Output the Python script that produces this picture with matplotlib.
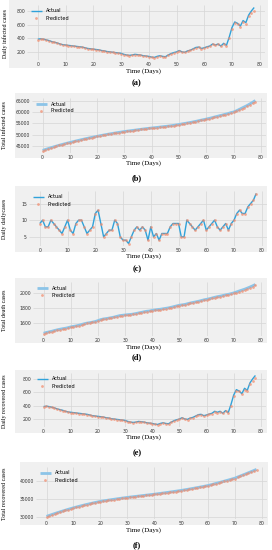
import matplotlib
matplotlib.use("Agg")
import matplotlib.pyplot as plt
from matplotlib.patches import Rectangle
from matplotlib.ticker import MultipleLocator

plt.style.use("fivethirtyeight")

days = list(range(79))

daily_infected = [390, 395, 390, 380, 370, 355, 345, 335, 320, 310,
                  305, 300, 295, 290, 285, 280, 275, 265, 255, 250,
                  245, 240, 235, 225, 220, 210, 205, 200, 195, 190,
                  185, 170, 160, 155, 160, 170, 165, 160, 150, 145,
                  140, 130, 125, 140, 150, 140, 135, 160, 180, 195,
                  205, 225, 205, 200, 220, 230, 250, 270, 275, 255,
                  265, 280, 290, 320, 305, 320, 290, 330, 300, 420,
                  560, 640, 620, 580, 660, 630, 740, 800, 850]
daily_infected_pred = [385, 392, 388, 377, 366, 352, 342, 331, 318, 307,
                       302, 297, 292, 287, 282, 277, 271, 262, 252, 247,
                       242, 237, 231, 222, 216, 207, 202, 197, 192, 187,
                       180, 167, 157, 153, 158, 166, 162, 157, 147, 142,
                       137, 128, 124, 137, 147, 138, 133, 156, 176, 191,
                       201, 220, 203, 198, 216, 226, 246, 265, 270, 253,
                       262, 276, 286, 314, 302, 315, 288, 325, 298, 400,
                       540, 620, 615, 570, 640, 615, 720, 775, 805]

total_infected = [43000, 43395, 43785, 44165, 44535, 44890, 45235, 45570, 45890, 46200,
                  46505, 46805, 47100, 47390, 47675, 47955, 48230, 48495, 48750, 49000,
                  49245, 49485, 49720, 49945, 50165, 50375, 50580, 50780, 50975, 51165,
                  51350, 51520, 51680, 51835, 51995, 52165, 52330, 52490, 52640, 52785,
                  52925, 53055, 53180, 53320, 53470, 53610, 53745, 53905, 54085, 54280,
                  54485, 54710, 54915, 55115, 55335, 55565, 55815, 56085, 56360, 56615,
                  56880, 57160, 57450, 57770, 58075, 58395, 58685, 59015, 59315, 59735,
                  60000, 60500, 61100, 61700, 62300, 62900, 63600, 64300, 65100]
total_infected_pred = [42950, 43340, 43720, 44100, 44470, 44830, 45170, 45510, 45830, 46140,
                       46450, 46750, 47040, 47330, 47620, 47900, 48170, 48440, 48690, 48940,
                       49190, 49430, 49660, 49890, 50110, 50320, 50520, 50720, 50920, 51110,
                       51290, 51460, 51620, 51780, 51940, 52100, 52270, 52430, 52580, 52730,
                       52870, 53000, 53130, 53260, 53410, 53550, 53690, 53850, 54020, 54220,
                       54420, 54640, 54850, 55050, 55260, 55490, 55730, 55990, 56260, 56520,
                       56780, 57050, 57330, 57640, 57950, 58260, 58560, 58880, 59180, 59560,
                       59820, 60250, 60800, 61350, 61950, 62500, 63150, 63800, 64600]

daily_deaths = [9, 10, 8, 8, 10, 9, 8, 7, 6, 8,
                10, 7, 6, 9, 10, 10, 8, 6, 7, 8,
                12, 13, 9, 5, 6, 7, 7, 10, 9, 5,
                4, 4, 3, 5, 7, 8, 7, 8, 7, 4,
                8, 5, 6, 4, 6, 6, 6, 8, 9, 9,
                9, 5, 5, 10, 9, 8, 7, 8, 9, 10,
                7, 8, 9, 10, 8, 7, 8, 9, 7, 9,
                10, 12, 13, 12, 12, 14, 15, 16, 18]
daily_deaths_pred = [9, 10, 8, 8, 10, 9, 8, 7, 6, 8,
                     10, 7, 6, 9, 10, 10, 8, 6, 7, 8,
                     12, 13, 9, 5, 6, 7, 7, 10, 9, 5,
                     4, 4, 3, 5, 7, 8, 7, 8, 7, 4,
                     8, 5, 6, 4, 6, 6, 6, 8, 9, 9,
                     9, 5, 5, 10, 9, 8, 7, 8, 9, 10,
                     7, 8, 9, 10, 8, 7, 8, 9, 7, 9,
                     10, 12, 13, 12, 12, 14, 15, 16, 18]

total_deaths = [1470, 1480, 1488, 1496, 1506, 1515, 1523, 1530, 1536, 1544,
                1554, 1561, 1567, 1576, 1586, 1596, 1604, 1610, 1617, 1625,
                1637, 1650, 1659, 1664, 1670, 1677, 1684, 1694, 1703, 1708,
                1712, 1716, 1719, 1724, 1731, 1739, 1746, 1754, 1761, 1765,
                1773, 1778, 1784, 1788, 1794, 1800, 1806, 1814, 1823, 1832,
                1841, 1846, 1851, 1861, 1870, 1878, 1885, 1893, 1902, 1912,
                1919, 1927, 1936, 1946, 1954, 1961, 1969, 1978, 1985, 1994,
                2004, 2016, 2029, 2041, 2053, 2067, 2082, 2098, 2116]
total_deaths_pred = [1466, 1476, 1484, 1492, 1502, 1511, 1519, 1526, 1532, 1540,
                     1550, 1557, 1563, 1572, 1582, 1592, 1600, 1606, 1613, 1621,
                     1633, 1646, 1655, 1660, 1666, 1673, 1680, 1690, 1699, 1704,
                     1708, 1712, 1715, 1720, 1727, 1735, 1742, 1750, 1757, 1761,
                     1769, 1774, 1780, 1784, 1790, 1796, 1802, 1810, 1819, 1828,
                     1837, 1842, 1847, 1857, 1866, 1874, 1881, 1889, 1898, 1908,
                     1914, 1922, 1931, 1941, 1949, 1956, 1964, 1972, 1979, 1988,
                     1997, 2008, 2020, 2031, 2043, 2056, 2070, 2086, 2104]

daily_recovered = [390, 395, 390, 380, 370, 355, 345, 335, 320, 310,
                   305, 300, 295, 290, 285, 280, 275, 265, 255, 250,
                   245, 240, 235, 225, 220, 210, 205, 200, 195, 190,
                   185, 170, 160, 155, 160, 170, 165, 160, 150, 145,
                   140, 130, 125, 140, 150, 140, 135, 160, 180, 195,
                   205, 225, 205, 200, 220, 230, 250, 270, 275, 255,
                   265, 280, 290, 320, 305, 320, 290, 330, 300, 420,
                   560, 640, 620, 580, 660, 630, 740, 800, 850]
daily_recovered_pred = [385, 392, 388, 377, 366, 352, 342, 331, 318, 307,
                        302, 297, 292, 287, 282, 277, 271, 262, 252, 247,
                        242, 237, 231, 222, 216, 207, 202, 197, 192, 187,
                        180, 167, 157, 153, 158, 166, 162, 157, 147, 142,
                        137, 128, 124, 137, 147, 138, 133, 156, 176, 191,
                        201, 220, 203, 198, 216, 226, 246, 265, 270, 253,
                        262, 276, 286, 314, 302, 315, 288, 325, 298, 400,
                        540, 620, 615, 570, 640, 615, 720, 775, 805]

total_recovered = [30200, 30460, 30720, 30970, 31220, 31460, 31700, 31930, 32160, 32380,
                   32600, 32800, 33000, 33190, 33380, 33560, 33740, 33910, 34080, 34240,
                   34400, 34520, 34640, 34760, 34880, 34990, 35100, 35210, 35320, 35420,
                   35520, 35610, 35700, 35790, 35880, 35970, 36060, 36150, 36240, 36330,
                   36420, 36520, 36620, 36720, 36820, 36930, 37040, 37150, 37260, 37370,
                   37480, 37610, 37740, 37870, 38000, 38140, 38280, 38420, 38560, 38710,
                   38860, 39060, 39260, 39460, 39660, 39870, 40080, 40290, 40500, 40720,
                   40940, 41240, 41540, 41840, 42140, 42450, 42760, 43070, 43400]
total_recovered_pred = [30120, 30380, 30640, 30890, 31140, 31380, 31620, 31850, 32080, 32300,
                        32520, 32720, 32920, 33110, 33300, 33480, 33660, 33830, 34000, 34160,
                        34320, 34440, 34560, 34680, 34800, 34910, 35020, 35130, 35240, 35340,
                        35440, 35530, 35620, 35710, 35800, 35890, 35980, 36070, 36160, 36250,
                        36340, 36440, 36540, 36640, 36740, 36850, 36960, 37070, 37180, 37290,
                        37400, 37530, 37660, 37790, 37920, 38060, 38200, 38340, 38480, 38630,
                        38780, 38980, 39180, 39380, 39580, 39790, 40000, 40200, 40400, 40620,
                        40830, 41120, 41420, 41720, 42020, 42320, 42630, 42940, 43250]

panels = [
    (daily_infected, daily_infected_pred, "Daily infected cases", "(a)", 200, False),
    (total_infected, total_infected_pred, "Total infected cases", "(b)", 5000, True),
    (daily_deaths, daily_deaths_pred, "Daily dailycases", "(c)", 5, False),
    (total_deaths, total_deaths_pred, "Total death cases", "(d)", 200, True),
    (daily_recovered, daily_recovered_pred, "Daily recovered cases", "(e)", 200, False),
    (total_recovered, total_recovered_pred, "Total recovered cases", "(f)", 5000, True),
]

# pixel boxes: axes (x0, x1, top, bottom), grey panel (x0, x1, top, bottom), xlabel y, caption y
ax_box = [(27, 265, 5, 60), (32, 266, 98, 153), (29, 267, 191, 246),
          (33, 266, 282, 336), (33, 266, 373, 427), (36, 267, 467, 519)]
grey_box = [(9, 268, 0, 68), (15, 267, 93, 158), (15, 267, 186, 252),
            (15, 267, 278, 343), (15, 267, 370, 433), (20, 268, 462, 525)]
xlab_y = [71, 163, 256, 347, 437, 530]
cap_y = [83, 178, 269, 357, 453, 545]

W, H = 272, 550
fig = plt.figure(figsize=(W / 100, H / 100), dpi=100, facecolor="white")

serif = ["Liberation Serif", "DejaVu Serif"]

for i, (act, pred, ylab, cap, step, cumulative) in enumerate(panels):
    gx0, gx1, gy0, gy1 = grey_box[i]
    fig.patches.append(Rectangle((gx0 / W, 1 - gy1 / H), (gx1 - gx0) / W, (gy1 - gy0) / H,
                                 transform=fig.transFigure, facecolor="#f0f0f0",
                                 edgecolor="none", zorder=-5))
    x0, x1, y0, y1 = ax_box[i]
    ax = fig.add_axes([x0 / W, 1 - y1 / H, (x1 - x0) / W, (y1 - y0) / H])
    ax.set_zorder(2)
    ax.set_facecolor("#f0f0f0")
    if cumulative:
        ax.plot(days, act, color="#8cc4e8", lw=2.0, label="Actual", zorder=2)
    else:
        ax.plot(days, act, color="#30a2da", lw=1.0, label="Actual", zorder=2)
    ax.plot(days, pred, "o", color="#f28a6a", ms=2.0, alpha=0.7, mew=0,
            label="Predicted", zorder=3)
    ax.xaxis.set_major_locator(MultipleLocator(10))
    ax.yaxis.set_major_locator(MultipleLocator(step))
    ax.ticklabel_format(axis="y", style="plain", useOffset=False)
    ax.tick_params(labelsize=3.3, pad=1.5, length=0, colors="#333333")
    ax.grid(True, color="#d6d6d6", lw=0.5)
    for s in ax.spines.values():
        s.set_visible(False)
    ax.legend(loc="upper left", fontsize=3.6, frameon=False,
              handlelength=2.2, borderaxespad=0.3, labelspacing=0.4)

    fig.text(143 / W, 1 - xlab_y[i] / H, "Time (Days)", family=serif, fontsize=5,
             ha="center", va="center")
    fig.text(137 / W, 1 - cap_y[i] / H, cap, family=serif, fontsize=6,
             fontweight="bold", ha="center", va="center")
    fig.text(5 / W, 1 - ((gy0 + gy1) / 2) / H, ylab, family=serif, fontsize=4.3,
             rotation=90, ha="center", va="center")

fig.savefig("out.png", dpi=100, facecolor="white")
